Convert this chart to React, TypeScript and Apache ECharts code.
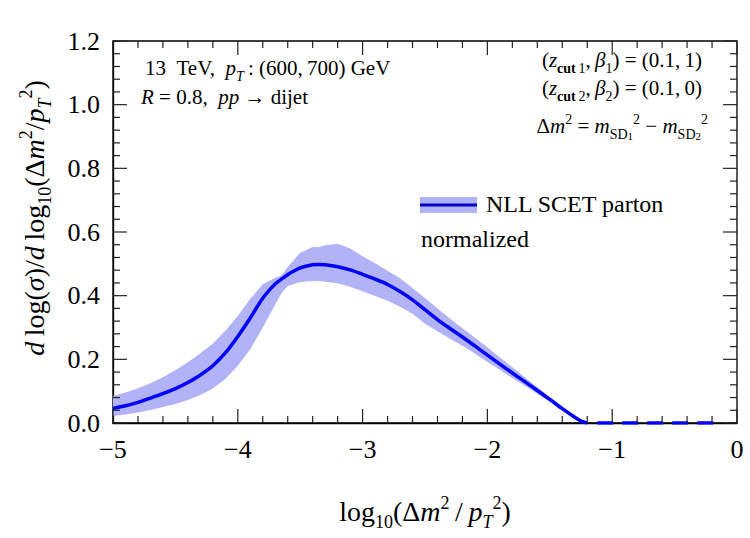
import React, { useEffect, useRef } from 'react';
import * as echarts from 'echarts';

// ---- data ----
const X = [-5.0, -4.9, -4.8, -4.7, -4.6, -4.5, -4.4, -4.3, -4.2, -4.1, -4.0, -3.9, -3.8, -3.7, -3.65, -3.6, -3.5, -3.4, -3.35, -3.3, -3.2, -3.1, -3.0, -2.9, -2.8, -2.7, -2.6, -2.5, -2.4, -2.3, -2.2, -2.1, -2.0, -1.9, -1.8, -1.7, -1.6, -1.5, -1.4, -1.3, -1.25, -1.2];
const CENTER = [0.046, 0.054, 0.065, 0.078, 0.092, 0.108, 0.127, 0.151, 0.18, 0.22, 0.272, 0.33, 0.392, 0.437, 0.452, 0.466, 0.487, 0.497, 0.498, 0.497, 0.491, 0.481, 0.467, 0.452, 0.435, 0.413, 0.387, 0.356, 0.325, 0.297, 0.27, 0.242, 0.213, 0.185, 0.157, 0.13, 0.102, 0.074, 0.045, 0.018, 0.006, 0.0];
const UPPER = [0.085, 0.096, 0.109, 0.125, 0.144, 0.166, 0.191, 0.219, 0.25, 0.29, 0.336, 0.39, 0.436, 0.456, 0.463, 0.49, 0.535, 0.553, 0.553, 0.558, 0.563, 0.548, 0.524, 0.502, 0.478, 0.455, 0.424, 0.393, 0.36, 0.328, 0.298, 0.268, 0.238, 0.206, 0.175, 0.144, 0.113, 0.082, 0.05, 0.02, 0.007, 0.0];
const LOWER = [0.022, 0.027, 0.033, 0.041, 0.05, 0.06, 0.072, 0.088, 0.108, 0.138, 0.18, 0.232, 0.3, 0.372, 0.408, 0.43, 0.443, 0.446, 0.446, 0.444, 0.439, 0.428, 0.414, 0.399, 0.384, 0.365, 0.343, 0.312, 0.288, 0.265, 0.243, 0.218, 0.192, 0.167, 0.141, 0.117, 0.092, 0.067, 0.041, 0.016, 0.005, 0.0];
const DASH_X = [-1.12, -0.19];
const DASH_Y = [0, 0];
const X_RANGE = [-5, 0];
const Y_RANGE = [0, 1.2];
const X_MAJOR = 1;
const Y_MAJOR = 0.2;
const MINOR_SPLIT = 5;

const F = 'serif';
const BAND = '#b2b2f6';
const LINE = '#0000ff';
const TICK = '#222222';

const fmtX = (v: any) => {
  const n = Number(v);
  return n < 0 ? '\u2212' + Math.abs(n) : String(n);
};
const fmtY = (v: any) => Number(v).toFixed(1);

// tick list derived from the axis ranges: [value, isX(1/0), isMajor(1/0)]
function tickList(): number[][] {
  const out: number[][] = [];
  const nx = Math.round((X_RANGE[1] - X_RANGE[0]) / X_MAJOR) * MINOR_SPLIT;
  for (let k = 0; k <= nx; k++) out.push([X_RANGE[0] + (k * X_MAJOR) / MINOR_SPLIT, 1, k % MINOR_SPLIT === 0 ? 1 : 0]);
  const ny = Math.round((Y_RANGE[1] - Y_RANGE[0]) / Y_MAJOR) * MINOR_SPLIT;
  for (let k = 0; k <= ny; k++) out.push([Y_RANGE[0] + (k * Y_MAJOR) / MINOR_SPLIT, 0, k % MINOR_SPLIT === 0 ? 1 : 0]);
  return out;
}

const txt = (s: number, extra: any = {}) => ({ fontFamily: F, fontSize: s, fill: '#000000', color: '#000000', ...extra });

const TITLE_RICH = {
  b: txt(28, { lineHeight: 40, verticalAlign: 'middle' }),
  i: txt(28, { lineHeight: 40, verticalAlign: 'middle', fontStyle: 'italic' }),
  s: txt(18, { lineHeight: 18, verticalAlign: 'bottom' }),
  si: txt(18, { lineHeight: 18, verticalAlign: 'bottom', fontStyle: 'italic' }),
  p: txt(18, { lineHeight: 18, verticalAlign: 'top', padding: [3, 0, 0, 0] }),
};
const ANN_RICH = {
  a: txt(21, { lineHeight: 30, verticalAlign: 'middle' }),
  ai: txt(21, { lineHeight: 30, verticalAlign: 'middle', fontStyle: 'italic' }),
  as: txt(14, { lineHeight: 14, verticalAlign: 'bottom' }),
  asi: txt(14, { lineHeight: 14, verticalAlign: 'bottom', fontStyle: 'italic' }),
  asb: txt(14, { lineHeight: 14, verticalAlign: 'bottom', fontWeight: 'bold' }),
  ass: txt(11, { lineHeight: 11, verticalAlign: 'bottom' }),
  ap: txt(14, { lineHeight: 14, verticalAlign: 'top', padding: [1, 0, 0, 0] }),
};

function richText(x: number, y: number, text: string, rich: any, align: string, extra: any = {}) {
  return {
    type: 'text',
    x,
    y,
    silent: true,
    z: 10,
    ...extra,
    style: { text, rich, align, verticalAlign: 'middle', fill: '#000000', fontFamily: F },
  };
}

function axis(isX: boolean) {
  return {
    type: 'value',
    position: isX ? 'bottom' : 'left',
    min: isX ? X_RANGE[0] : Y_RANGE[0],
    max: isX ? X_RANGE[1] : Y_RANGE[1],
    interval: isX ? X_MAJOR : Y_MAJOR,
    axisLine: { show: true, onZero: false, lineStyle: { color: '#000000', width: 1.3 } },
    axisTick: { show: false },
    minorTick: { show: false },
    splitLine: { show: false },
    axisLabel: { formatter: isX ? fmtX : fmtY, fontSize: 26, fontFamily: F, color: '#000000', margin: 13 },
  };
}

export default function App() {
  const ref = useRef<HTMLDivElement>(null);
  useEffect(() => {
    document.body.style.margin = '0';
    const chart = echarts.init(ref.current!, null, { renderer: 'svg' });

    const yTitle = '{i|d}{b|\u2009log(}{i|\u03c3}{b|)/}{i|d}{b|\u2009log}{s|10}{b|(\u0394}{i|m}{p|2}{b|/}{i|p}{si|T}{p|2}{b|)}';
    const xTitle = '{b|log}{s|10}{b|(\u0394}{i|m}{p|2}{b|\u2009/\u2009}{i|p}{si|T}{p|2}{b|)}';
    const l1 = '{a|13\u2002TeV,\u2002}{ai|p}{asi|T}{a|\u2009: (600,\u2009700) GeV}';
    const l2 = '{ai|R}{a| = 0.8,\u2002}{ai|pp}{a| \u2192 dijet}';
    const r = (n: string, v: string) => `{a|(}{ai|z}{asb|cut}{as|\u2009${n}}{a|,\u2009}{ai|\u03b2}{as|${n}}{a|) = (0.1,\u2009${v})}`;
    const r3 = '{a|\u0394}{ai|m}{ap|2}{a| = }{ai|m}{as|SD}{ass|1}{ap|2}{a| \u2212 }{ai|m}{as|SD}{ass|2}{ap|2}';

    const graphic: any[] = [
      richText(34, 218, yTitle, TITLE_RICH, 'center', { rotation: Math.PI / 2 }),
      richText(425, 511, xTitle, TITLE_RICH, 'center'),
      richText(145, 68, l1, ANN_RICH, 'left'),
      richText(141, 97, l2, ANN_RICH, 'left'),
      richText(702, 60, r('1', '1'), ANN_RICH, 'right'),
      richText(702, 88, r('2', '0'), ANN_RICH, 'right'),
      richText(708, 126, r3, ANN_RICH, 'right'),
      { type: 'rect', shape: { x: 420, y: 197, width: 57, height: 16 }, style: { fill: BAND }, silent: true },
      { type: 'rect', shape: { x: 420, y: 203.5, width: 57, height: 3 }, style: { fill: '#0000c8' }, silent: true },
      { type: 'text', x: 486, y: 204, silent: true, style: { text: 'NLL SCET parton', fontFamily: F, fontSize: 24, fill: '#000000', align: 'left', verticalAlign: 'middle' } },
      { type: 'text', x: 421, y: 239, silent: true, style: { text: 'normalized', fontFamily: F, fontSize: 24, fill: '#000000', align: 'left', verticalAlign: 'middle' } },
    ];

    chart.setOption({
      animation: false,
      grid: { left: 113, right: 13, top: 41, bottom: 115, show: true, borderColor: '#000000', borderWidth: 1.3, backgroundColor: 'transparent' },
      xAxis: axis(true),
      yAxis: axis(false),
      series: [
        {
          type: 'custom',
          name: 'band',
          renderItem: (params: any, api: any) => {
            const pts: number[][] = [];
            for (let i = 0; i < X.length; i++) pts.push(api.coord([X[i], UPPER[i]]));
            for (let i = X.length - 1; i >= 0; i--) pts.push(api.coord([X[i], LOWER[i]]));
            return { type: 'polygon', shape: { points: pts }, style: { fill: BAND, stroke: 'none' } };
          },
          data: [[X[0], UPPER[0]]],
          silent: true,
          z: 1,
        },
        {
          type: 'line',
          name: 'NLL SCET parton',
          data: X.map((x, i) => [x, CENTER[i]]),
          symbol: 'none',
          smooth: 0.3,
          lineStyle: { color: LINE, width: 3.5 },
          silent: true,
          z: 3,
        },
        {
          type: 'line',
          name: 'dashed',
          data: DASH_X.map((x, i) => [x, DASH_Y[i]]),
          symbol: 'none',
          lineStyle: { color: LINE, width: 3.5, type: [16, 9] },
          silent: true,
          z: 3,
        },
        {
          type: 'custom',
          name: 'ticks',
          clip: false,
          silent: true,
          z: 5,
          data: tickList(),
          renderItem: (params: any, api: any) => {
            const v = api.value(0);
            const isX = api.value(1) === 1;
            const len = api.value(2) === 1 ? 14 : 7;
            const w = 1.2;
            const st = { fill: TICK };
            if (isX) {
              const a = api.coord([v, Y_RANGE[0]]);
              const b = api.coord([v, Y_RANGE[1]]);
              return {
                type: 'group',
                children: [
                  { type: 'rect', shape: { x: a[0] - w / 2, y: a[1] - len, width: w, height: len }, style: st },
                  { type: 'rect', shape: { x: b[0] - w / 2, y: b[1], width: w, height: len }, style: st },
                ],
              };
            }
            const a = api.coord([X_RANGE[0], v]);
            const b = api.coord([X_RANGE[1], v]);
            return {
              type: 'group',
              children: [
                { type: 'rect', shape: { x: a[0], y: a[1] - w / 2, width: len, height: w }, style: st },
                { type: 'rect', shape: { x: b[0] - len, y: b[1] - w / 2, width: len, height: w }, style: st },
              ],
            };
          },
        },
      ],
      graphic,
    });
    return () => chart.dispose();
  }, []);
  return <div ref={ref} style={{ width: 750, height: 538 }} />;
}
